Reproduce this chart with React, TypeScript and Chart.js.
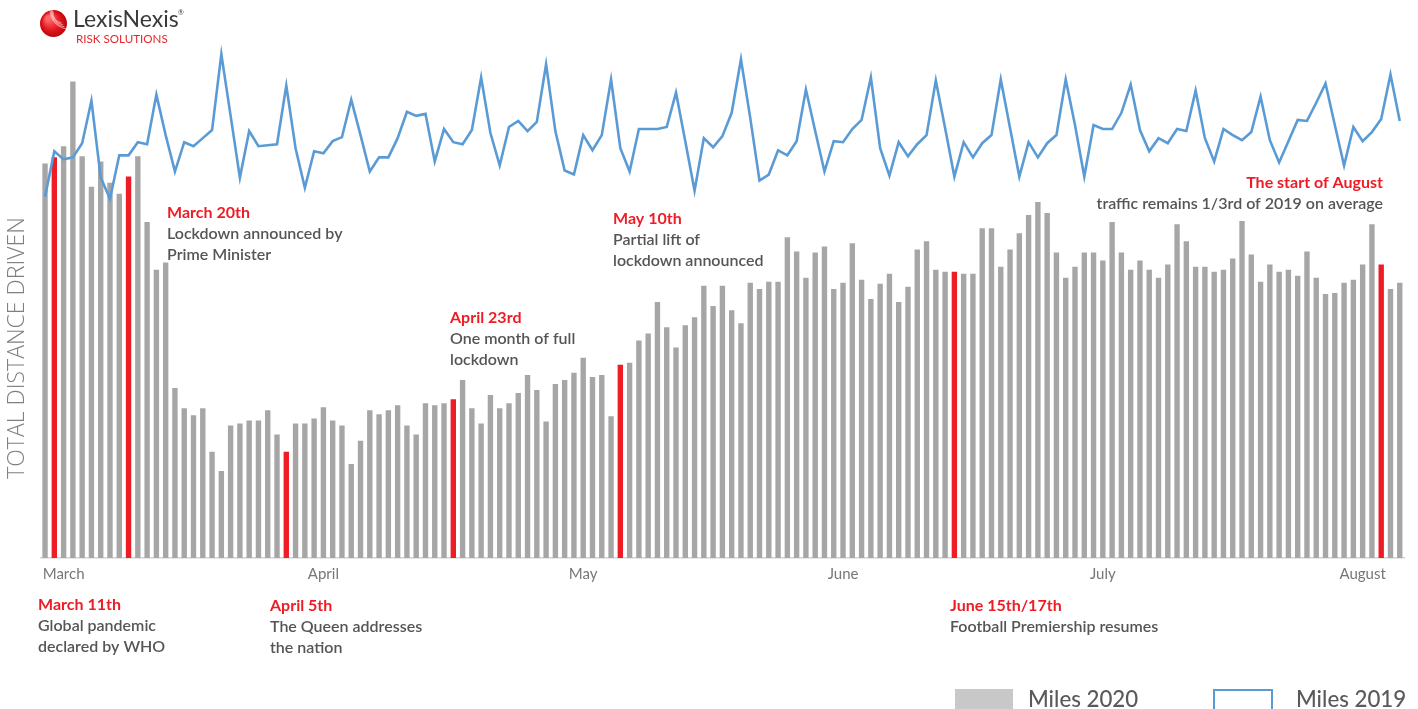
import React, { useEffect, useRef } from "react";
import { Chart, registerables } from "chart.js";

Chart.register(...registerables);

// ---------- DATA ----------
const miles2020 = [
  390, 396, 407, 471, 397, 367, 392, 371, 360, 377, 397, 332, 285, 292, 168, 148, 141, 148, 105, 86, 131, 133, 136, 136, 146,
  122, 105, 133, 133, 138, 149, 136, 131, 93, 116, 146, 142, 146, 151, 131, 122, 153, 151, 153, 157, 176, 148, 133, 161, 148,
  153, 163, 181, 166, 135, 172, 176, 183, 198, 179, 181, 140, 191, 193, 215, 222, 253, 228, 208, 230, 238, 269, 249, 269, 245,
  232, 272, 266, 273, 273, 317, 303, 277, 302, 308, 266, 272, 311, 275, 256, 271, 281, 253, 268, 305, 313, 285, 283, 283,
  281, 281, 326, 326, 288, 305, 321, 339, 352, 341, 302, 277, 288, 302, 302, 294, 332, 302, 285, 294, 285, 277, 290, 330, 313,
  288, 288, 283, 285, 296, 333, 300, 273, 290, 283, 285, 279, 303, 277, 261, 262, 272, 275, 290, 330, 290, 266, 272,
];

const miles2019 = [
  357, 402, 394, 396, 410, 452, 376, 355, 398, 398, 411, 409, 458, 418, 382, 411, 407, 415, 423, 498, 437, 376, 422, 407, 408,
  409, 467, 405, 366, 402, 400, 412, 416, 453, 418, 382, 396, 396, 415, 441, 437, 439, 392, 424, 411, 409, 423, 475, 420, 388,
  426, 432, 422, 431, 488, 422, 383, 379, 418, 403, 418, 473, 405, 382, 424, 424, 424, 426, 460, 412, 363, 415, 406, 417, 440,
  493, 435, 373, 379, 403, 398, 412, 463, 422, 382, 412, 411, 424, 433, 475, 405, 378, 411, 397, 409, 418, 472, 425, 377,
  411, 396, 410, 418, 473, 425, 377, 411, 396, 410, 418, 473, 428, 377, 428, 424, 424, 440, 468, 423, 402, 415, 410, 424, 422,
  462, 415, 392, 424, 418, 413, 421, 456, 413, 391, 412, 433, 432, 450, 469, 428, 388, 426, 412, 421, 434, 478, 432,
];

const days = miles2020.map((_, i) => `Day ${i + 1}`);
const highlightDays = [1, 9, 26, 44, 62, 98, 144];
const monthLabels = ["March", "April", "May", "June", "July", "August"];
const monthTickIndex = [2, 30, 58, 86, 114, 142];

const seriesLabels = ["Miles 2020", "Miles 2019"];
const yAxisTitle = "TOTAL DISTANCE DRIVEN";

const topNotes = [
  { title: "March 20th", lines: ["Lockdown announced by", "Prime Minister"] },
  { title: "April 23rd", lines: ["One month of full", "lockdown"] },
  { title: "May 10th", lines: ["Partial lift of", "lockdown announced"] },
  { title: "The start of August", lines: ["traffic remains 1/3rd of 2019 on average"] },
];
const bottomNotes = [
  { title: "March 11th", lines: ["Global pandemic", "declared by WHO"] },
  { title: "April 5th", lines: ["The Queen addresses", "the nation"] },
  { title: "June 15th/17th", lines: ["Football Premiership resumes"] },
];

// ---------- STYLE ----------
const GRAY_BAR = "#a6a6a6";
const RED = "#ee1c25";
const BLUE = "#5b9bd5";
const TEXT_GRAY = "#555555";
const FONT = "Lato";

const overlayPlugin = {
  id: "overlay",
  afterDraw(chart: any) {
    const ctx: CanvasRenderingContext2D = chart.ctx;
    ctx.save();

    // Logo
    const g = ctx.createRadialGradient(48, 18, 2, 53.5, 23.5, 14);
    g.addColorStop(0, "#ff6a6a");
    g.addColorStop(0.6, "#e3161e");
    g.addColorStop(1, "#b5060c");
    ctx.fillStyle = g;
    ctx.beginPath();
    ctx.arc(53.5, 23.5, 13.5, 0, Math.PI * 2);
    ctx.fill();
    ctx.strokeStyle = "rgba(255,255,255,0.55)";
    ctx.lineWidth = 1;
    for (let k = 0; k < 4; k++) {
      ctx.beginPath();
      ctx.arc(63 + k * 2, 13 - k, 10 + k * 3, Math.PI * 0.55, Math.PI * 1.05);
      ctx.stroke();
    }
    ctx.fillStyle = "#3a3a3a";
    ctx.font = `400 23px ${FONT}`;
    ctx.textBaseline = "alphabetic";
    ctx.textAlign = "left";
    ctx.fillText("LexisNexis", 73, 27);
    ctx.font = `400 7px ${FONT}`;
    ctx.fillText("®", 178, 15);
    ctx.fillStyle = "#e4262c";
    ctx.font = `400 11.6px ${FONT}`;
    ctx.fillText("RISK SOLUTIONS", 76, 43);

    // Y axis title
    ctx.save();
    ctx.translate(17, 348);
    ctx.rotate(-Math.PI / 2);
    ctx.fillStyle = "#808080";
    ctx.font = `300 23px "Open Sans"`;
    ctx.textAlign = "center";
    ctx.textBaseline = "middle";
    ctx.fillText(yAxisTitle, 0, 0);
    ctx.restore();

    // Annotations
    const drawNote = (note: any, x: number, y: number, align: CanvasTextAlign) => {
      ctx.textAlign = align;
      ctx.textBaseline = "middle";
      ctx.fillStyle = RED;
      ctx.font = `700 16px ${FONT}`;
      ctx.fillText(note.title, x, y);
      ctx.fillStyle = TEXT_GRAY;
      ctx.font = `600 16px ${FONT}`;
      note.lines.forEach((l: string, i: number) => ctx.fillText(l, x, y + 21 * (i + 1)));
    };
    drawNote(topNotes[0], 167, 213, "left");
    drawNote(topNotes[1], 450, 318, "left");
    drawNote(topNotes[2], 613, 219, "left");
    drawNote(topNotes[3], 1383, 183, "right");
    drawNote(bottomNotes[0], 38, 605, "left");
    drawNote(bottomNotes[1], 270, 606, "left");
    drawNote(bottomNotes[2], 950, 606, "left");

    // Legend
    ctx.textAlign = "left";
    ctx.textBaseline = "alphabetic";
    ctx.font = `500 22.3px ${FONT}`;
    ctx.fillStyle = "#c8c8c8";
    ctx.fillRect(955, 689, 58, 24);
    ctx.fillStyle = "#5a5a5a";
    ctx.fillText(chart.data.datasets[0].label, 1028, 707);
    ctx.strokeStyle = chart.data.datasets[1].borderColor;
    ctx.lineWidth = 2;
    ctx.strokeRect(1214, 690, 58, 24);
    ctx.fillStyle = "#5a5a5a";
    ctx.fillText(chart.data.datasets[1].label, 1296, 707);

    ctx.restore();
  },
};

export default function App() {
  const ref = useRef<HTMLCanvasElement | null>(null);

  useEffect(() => {
    if (!ref.current) return;
    const barColors = miles2020.map((_, i) => (highlightDays.includes(i) ? RED : GRAY_BAR));
    const chart = new Chart(ref.current, {
      type: "bar",
      data: {
        labels: days,
        datasets: [
          {
            type: "bar",
            label: seriesLabels[0],
            data: miles2020,
            backgroundColor: barColors,
            barPercentage: 0.58,
            categoryPercentage: 1,
            order: 2,
          },
          {
            type: "line",
            label: seriesLabels[1],
            data: miles2019,
            borderColor: BLUE,
            backgroundColor: BLUE,
            borderWidth: 2.6,
            pointRadius: 0,
            tension: 0,
            order: 1,
          } as any,
        ],
      },
      options: {
        responsive: false,
        animation: false,
        layout: { padding: { left: 40.4, right: 13.6, top: 40, bottom: 119 } },
        plugins: { legend: { display: false }, tooltip: { enabled: false } },
        scales: {
          x: {
            type: "category",
            offset: true,
            grid: { display: false, drawTicks: false },
            border: { display: true, color: "#d4d4d4", width: 1.5 },
            ticks: {
              autoSkip: false,
              maxRotation: 0,
              minRotation: 0,
              padding: 7,
              color: "#777777",
              font: { family: FONT, size: 15 },
              callback: (_v: any, i: number) => {
                const k = monthTickIndex.indexOf(i);
                return k >= 0 ? monthLabels[k] : "";
              },
            },
          },
          y: { display: false, min: 0, max: 512 },
        },
      },
      plugins: [overlayPlugin],
    });
    return () => chart.destroy();
  }, []);

  return (
    <canvas
      ref={ref}
      width={1418}
      height={709}
      style={{ position: "absolute", left: 0, top: 0, width: 1418, height: 709 }}
    />
  );
}
